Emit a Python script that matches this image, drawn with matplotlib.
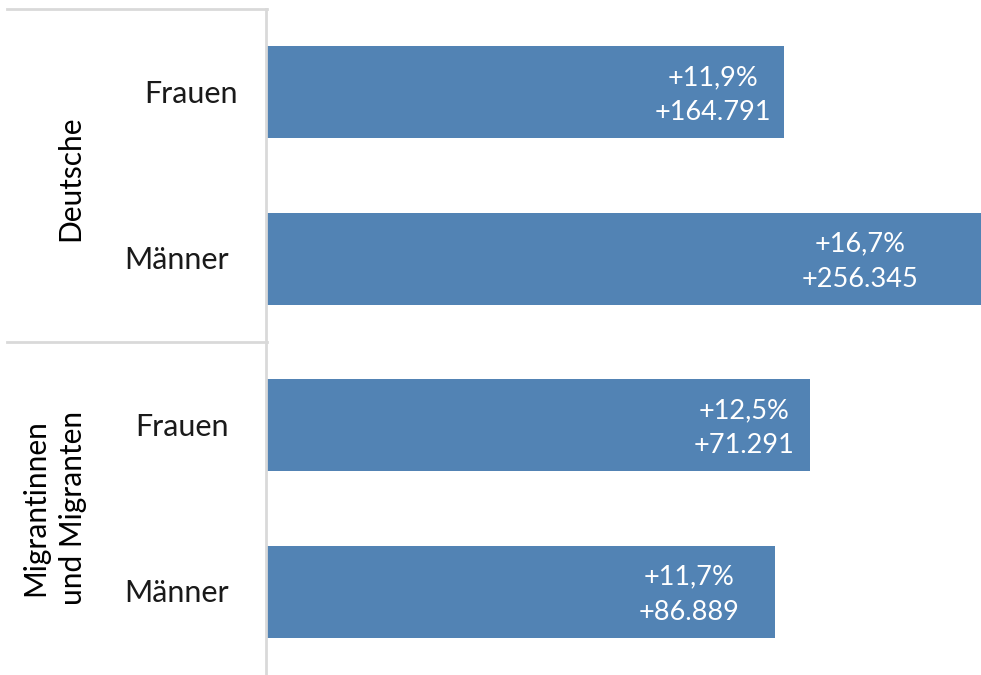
import matplotlib
matplotlib.use("Agg")
import matplotlib.pyplot as plt
from matplotlib.lines import Line2D

groups = ["Deutsche", "Migrantinnen\nund Migranten"]
categories = ["Frauen", "Männer", "Frauen", "Männer"]
pct_values = [11.9, 16.7, 12.5, 11.7]
pct_labels = ["+11,9%", "+16,7%", "+12,5%", "+11,7%"]
abs_labels = ["+164.791", "+256.345", "+71.291", "+86.889"]

plt.rcParams['font.family'] = ['Lato', 'DejaVu Sans']
W, H = 981, 675
fig = plt.figure(figsize=(W / 100, H / 100), dpi=100)
left_px, top_px = 267, 9
ax = fig.add_axes([left_px / W, 0, 1 - left_px / W, (H - top_px) / H])

bar_color = "#5283b4"
y = list(range(len(categories)))
xmax = 16.43
ax.barh(y, pct_values, height=0.55, color=bar_color)
ax.set_xlim(0, xmax)
ax.set_ylim(len(categories) - 0.5, -0.5)
ax.axis("off")

label_offsets = [-13, -63, -16, -36]
for i, (v, p, a) in enumerate(zip(pct_values, pct_labels, abs_labels)):
    ax.annotate(p + "\n" + a, xy=(min(v, xmax), i), xytext=(label_offsets[i], -3),
                textcoords="offset pixels", ha="right", va="center",
                multialignment="center", color="white", fontsize=19.5,
                linespacing=1.5)

# category labels
cat_x_px = [191, 177, 182, 177]
for i, c in enumerate(categories):
    yy = (H - top_px) / H * (1 - (i + 0.5) / len(categories))
    fig.text(cat_x_px[i] / W, yy - 1.5 / H, c, ha="center", va="center", fontsize=22,
             color="#1a1a1a")

# group labels
fig.text(70 / W, (H - 178) / H, groups[0], rotation=90, ha="center", va="center",
         fontsize=21.5, color="black")
fig.text(54 / W, (H - 508) / H, groups[1], rotation=90, ha="center", va="center",
         fontsize=21.5, color="black", multialignment="center", linespacing=1.45)

# structure lines
lc = "#d9d9d9"
fig.add_artist(Line2D([7 / W, 267 / W], [(H - 9) / H, (H - 9) / H], color=lc, lw=2))
fig.add_artist(Line2D([7 / W, 267 / W], [(H - 342) / H, (H - 342) / H], color=lc, lw=2))
fig.add_artist(Line2D([266 / W, 266 / W], [0, (H - 9) / H], color=lc, lw=2))

fig.savefig("out.png", dpi=100, facecolor="white")
